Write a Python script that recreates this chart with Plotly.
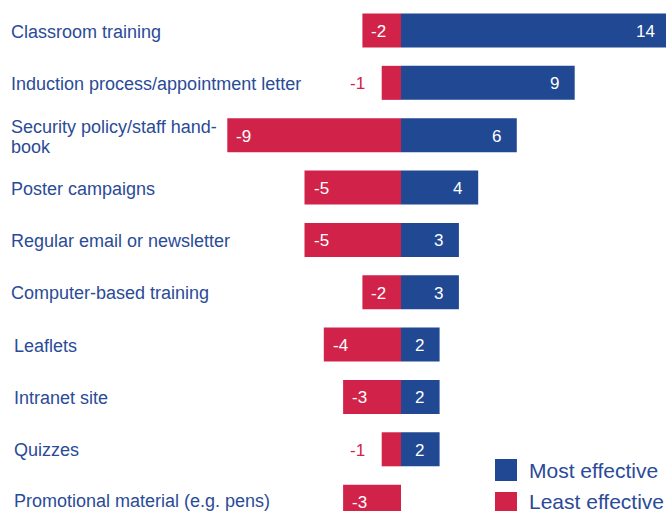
import plotly.graph_objects as go

categories = [
    "Classroom training",
    "Induction process/appointment letter",
    "Security policy/staff hand-|book",
    "Poster campaigns",
    "Regular email or newsletter",
    "Computer-based training",
    "Leaflets",
    "Intranet site",
    "Quizzes",
    "Promotional material (e.g. pens)",
]
most_effective = [14, 9, 6, 4, 3, 3, 2, 2, 2, 0]
least_effective = [-2, -1, -9, -5, -5, -2, -4, -3, -1, -3]
series_names = ["Most effective", "Least effective"]

BLUE = "#214893"
RED = "#d1234a"
TXT = "#2a4b98"
FONT = "Liberation Sans, Arial, sans-serif"

# figure is slightly larger than the 666x511 window; the overflow is clipped like the reference
W, H = 680, 530
idx = list(range(len(categories)))

fig = go.Figure()
fig.add_trace(go.Bar(y=idx, x=most_effective, orientation="h", marker_color=BLUE,
                     marker_line_width=0, width=0.65, name=series_names[0], showlegend=False))
fig.add_trace(go.Bar(y=idx, x=least_effective, orientation="h", marker_color=RED,
                     marker_line_width=0, width=0.65, name=series_names[1], showlegend=False))

ann = []
# category labels
for i, c in enumerate(categories):
    xpx = 9 if i < 6 else 12
    ys = -1 if i < 9 else 1
    parts = c.split("|")
    if len(parts) == 1:
        ann.append(dict(x=xpx / W, xref="paper", y=i, yref="y", text=parts[0],
                        xanchor="left", yanchor="middle", showarrow=False, yshift=ys,
                        font=dict(family=FONT, size=18, color=TXT)))
    else:
        for k, p in enumerate(parts):
            ann.append(dict(x=xpx / W, xref="paper", y=i, yref="y", text=p,
                            xanchor="left", yanchor="middle", showarrow=False,
                            yshift=8 - 20 * k,
                            font=dict(family=FONT, size=18, color=TXT)))

# value labels
for i, v in enumerate(most_effective):
    if v > 0:
        ann.append(dict(x=v, y=i, text=str(v), xanchor="right", yanchor="middle",
                        showarrow=False, xshift=-14, yshift=-1,
                        font=dict(family=FONT, size=17, color="white")))
for i, v in enumerate(least_effective):
    if v < -1:
        ann.append(dict(x=v, y=i, text=str(v), xanchor="left", yanchor="middle",
                        showarrow=False, xshift=7, yshift=-1,
                        font=dict(family=FONT, size=17, color="white")))
    elif v < 0:
        ann.append(dict(x=v, y=i, text=str(v), xanchor="right", yanchor="middle",
                        showarrow=False, xshift=-15, yshift=-1,
                        font=dict(family=FONT, size=17, color=RED)))

# legend (manual)
shapes = []
leg = [(series_names[0], BLUE, 459, 470), (series_names[1], RED, 492, 501)]
for name, col, top, cy in leg:
    shapes.append(dict(type="rect", xref="paper", yref="paper",
                       x0=495 / W, x1=517 / W, y0=1 - (top + 22) / H, y1=1 - top / H,
                       fillcolor=col, line_width=0))
    ann.append(dict(x=527 / W, xref="paper", y=1 - cy / H, yref="paper", text=name,
                    xanchor="left", yanchor="middle", showarrow=False,
                    font=dict(family=FONT, size=21, color=TXT)))

px_unit = 19.3
zero_px = 401
row_px = 52.35
first_row_px = 30.5
fig.update_layout(
    width=W, height=H,
    margin=dict(l=0, r=0, t=0, b=0),
    paper_bgcolor="white", plot_bgcolor="white",
    barmode="relative",
    showlegend=False,
    xaxis=dict(range=[-zero_px / px_unit, (W - zero_px) / px_unit], visible=False,
               fixedrange=True),
    yaxis=dict(range=[(H - first_row_px) / row_px, -first_row_px / row_px],
               visible=False, fixedrange=True),
    annotations=ann,
    shapes=shapes,
)
fig.write_html(
    "out.html",
    config={"displayModeBar": False},
    post_script="document.body.style.margin='0';document.body.style.overflow='hidden';",
)
